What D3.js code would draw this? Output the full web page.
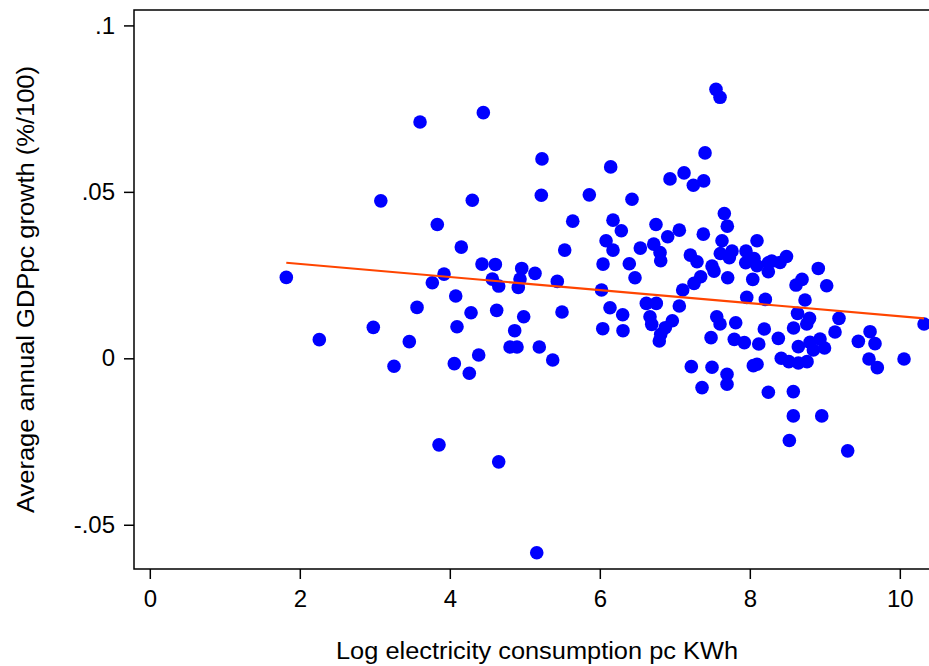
<!DOCTYPE html>
<html lang="en">
<head>
<meta charset="utf-8">
<title>Electricity consumption and GDP growth</title>
<style>
  body { margin: 0; background: #fff; }
  .axis text { font-family: "Liberation Sans", Arial, sans-serif; font-size: 24px; fill: #000; }
  .axis path, .axis line { stroke: #000; stroke-width: 1.5px; }
  .title { font-family: "Liberation Sans", Arial, sans-serif; font-size: 23px; fill: #000; }
  .dot { fill: #0000ff; }
  .fit { fill: none; stroke: #ff4500; stroke-width: 2.2px; }
</style>
</head>
<body>
<div id="chart"></div>

<script src="https://d3js.org/d3.v7.min.js"></script>
<script>
  // log electricity consumption per capita (KWh)
  var logElec = [
    1.82, 2.26, 2.98, 3.08, 3.256, 3.46, 3.563, 3.603, 3.767, 3.833,
    3.856, 3.923, 4.06, 4.079, 4.096, 4.153, 4.26, 4.283, 4.30, 4.385,
    4.429, 4.447, 4.567, 4.607, 4.625, 4.652, 4.652, 4.803, 4.865, 4.896,
    4.913, 4.936, 4.959, 4.985, 5.136, 5.159, 5.193, 5.22, 5.229, 5.372,
    5.433, 5.496, 5.532,
    5.639, 5.86, 6.023, 6.039, 6.043, 6.083, 6.136, 6.145, 6.176, 6.176,
    6.287, 6.305, 6.309, 6.393, 6.429, 6.469, 6.54, 6.62, 6.669, 6.692,
    6.719, 6.749, 6.753, 6.793, 6.803, 6.812, 6.812, 6.873, 6.905, 6.936,
    6.967, 7.06, 7.06, 7.105, 7.123, 7.207, 7.22, 7.247, 7.256, 7.296,
    7.345, 7.363, 7.38, 7.385, 7.403, 7.483, 7.496, 7.496, 7.523, 7.549,
    7.559, 7.603, 7.603, 7.607, 7.629, 7.66, 7.696, 7.696, 7.70, 7.705,
    7.727, 7.763, 7.793, 7.812, 7.927, 7.949, 7.945, 7.959, 8.039, 8.047,
    8.056, 8.096, 8.096, 8.096, 8.119, 8.193, 8.207, 8.247, 8.247, 8.247,
    8.292, 8.403, 8.489, 8.913, 8.616, 8.696, 9.025, 8.736, 10.323, 8.636,
    8.796, 8.759, 9.189, 8.583, 9.136, 8.38, 8.647, 8.803, 8.936, 8.996,
    8.847, 9.447, 9.603, 9.669, 9.589, 9.70, 10.056, 8.419, 8.52, 8.647,
    8.763, 8.58, 8.58, 8.959, 8.527, 9.305
  ];

  // average annual GDP per capita growth (%/100)
  var gdpGrowth = [
    0.0243, 0.0056, 0.0093, 0.0473, -0.0024, 0.0050, 0.0153, 0.0710, 0.0227, 0.0402,
    -0.0260, 0.0253, -0.0016, 0.0187, 0.0095, 0.0334, -0.0045, 0.0137, 0.0475, 0.0010,
    0.0283, 0.0738, 0.0238, 0.0282, 0.0144, 0.0217, -0.0311, 0.0034, 0.0083, 0.0034,
    0.0213, 0.0238, 0.0270, 0.0125, 0.0255, -0.0584, 0.0034, 0.0490, 0.0599, -0.0005,
    0.0231, 0.0139, 0.0325,
    0.0412, 0.0491, 0.0205, 0.0089, 0.0283, 0.0353, 0.0152, 0.0575, 0.0415, 0.0325,
    0.0383, 0.0131, 0.0083, 0.0284, 0.0478, 0.0242, 0.0331, 0.0165, 0.0125, 0.0102,
    0.0343, 0.0402, 0.0165, 0.0052, 0.0318, 0.0293, 0.0072, 0.0092, 0.0365, 0.0539,
    0.0113, 0.0385, 0.0157, 0.0205, 0.0557, 0.0310, -0.0025, 0.0520, 0.0225, 0.0290,
    0.0245, -0.0088, 0.0373, 0.0533, 0.0617, 0.0062, 0.0277, -0.0027, 0.0262, 0.0808,
    0.0125, 0.0784, 0.0103, 0.0315, 0.0353, 0.0435, -0.0048, -0.0078, 0.0397, 0.0242,
    0.0302, 0.0322, 0.0057, 0.0107, 0.0047, 0.0322, 0.0287, 0.0183, 0.0237, -0.0022,
    0.0300, 0.0353, 0.0278, -0.0018, 0.0043, 0.0088, 0.0177, 0.0287, 0.0260, -0.0102,
    0.0292, 0.0288, 0.0306, 0.0270, 0.0220, 0.0237, 0.0218, 0.0175, 0.0103, 0.0135,
    0.0120, 0.0103, 0.0120, 0.0091, 0.0079, 0.0060, 0.0035, 0.0048, 0.0058, 0.0031,
    0.0025, 0.0051, 0.0080, 0.0044, -0.0002, -0.0028, -0.0002, 0.0000, -0.0010, -0.0014,
    -0.0010, -0.0100, -0.0173, -0.0173, -0.0247, -0.0278
  ];

  // fitted line end points
  var fitX = [1.82, 10.323];
  var fitY = [0.0287, 0.0120];

  var xTicks = [0, 2, 4, 6, 8, 10];
  var xTickLabels = ["0", "2", "4", "6", "8", "10"];
  var yTicks = [0.1, 0.05, 0, -0.05];
  var yTickLabels = [".1", ".05", "0", "-.05"];

  var data = logElec.map(function(v, i) { return { x: v, y: gdpGrowth[i] }; });

  var svgWidth = 929, svgHeight = 666;
  var plotLeft = 134, plotTop = 10, plotRight = 929, plotBottom = 569;

  var svg = d3.select("#chart")
    .append("svg")
    .attr("width", svgWidth)
    .attr("height", svgHeight);

  var x = d3.scaleLinear().domain([-0.2107, 10.389]).range([plotLeft, plotRight]);
  var y = d3.scaleLinear().domain([0.10463, -0.06329]).range([plotTop, plotBottom]);

  // plot frame (right side runs off the picture)
  svg.append("path")
    .attr("d", "M" + (plotRight + 20) + "," + plotTop + "H" + plotLeft + "V" + plotBottom + "H" + (plotRight + 20))
    .attr("fill", "none")
    .attr("stroke", "#000")
    .attr("stroke-width", 1.5);

  var xAxis = d3.axisBottom(x)
    .tickValues(xTicks)
    .tickSize(10)
    .tickPadding(11)
    .tickFormat(function(d, i) { return xTickLabels[i]; });

  svg.append("g")
    .attr("class", "axis")
    .attr("transform", "translate(0," + plotBottom + ")")
    .call(xAxis)
    .call(function(g) { g.select(".domain").remove(); });

  var yAxis = d3.axisLeft(y)
    .tickValues(yTicks)
    .tickSize(10)
    .tickPadding(9)
    .tickFormat(function(d, i) { return yTickLabels[i]; });

  svg.append("g")
    .attr("class", "axis")
    .attr("transform", "translate(" + plotLeft + ",0)")
    .call(yAxis)
    .call(function(g) { g.select(".domain").remove(); });

  svg.append("g")
    .selectAll(".dot")
    .data(data)
    .enter()
    .append("circle")
    .attr("class", "dot")
    .attr("cx", function(d) { return x(d.x); })
    .attr("cy", function(d) { return y(d.y); })
    .attr("r", 6.8);

  var line = d3.line()
    .x(function(d) { return x(d[0]); })
    .y(function(d) { return y(d[1]); });

  svg.append("path")
    .attr("class", "fit")
    .attr("d", line(fitX.map(function(v, i) { return [v, fitY[i]]; })));

  svg.append("text")
    .attr("class", "title")
    .attr("x", 537)
    .attr("y", 659)
    .attr("text-anchor", "middle")
    .attr("textLength", 402)
    .attr("lengthAdjust", "spacingAndGlyphs")
    .text("Log electricity consumption pc KWh");

  svg.append("text")
    .attr("class", "title")
    .attr("transform", "translate(34," + ((plotTop + plotBottom) / 2) + ") rotate(-90)")
    .attr("text-anchor", "middle")
    .attr("textLength", 447)
    .attr("lengthAdjust", "spacingAndGlyphs")
    .text("Average annual GDPpc growth (%/100)");
</script>
</body>
</html>
